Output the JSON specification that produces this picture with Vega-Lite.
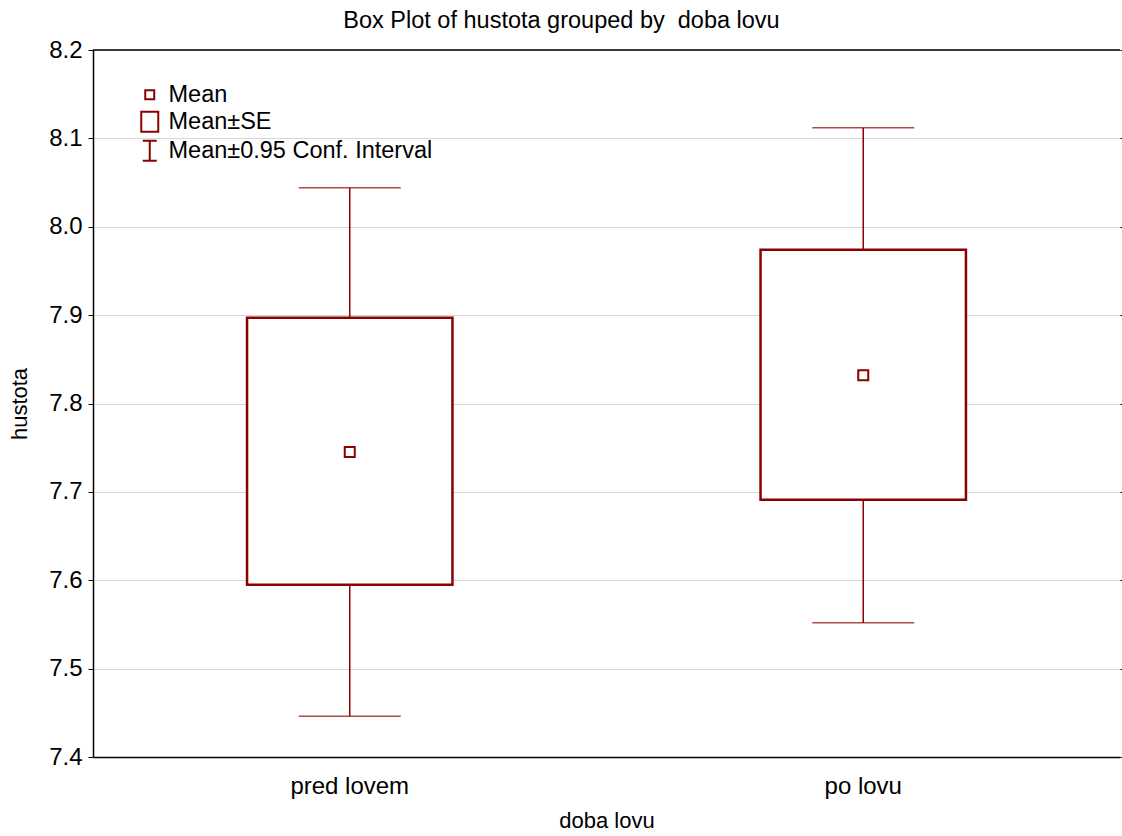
{
  "$schema": "https://vega.github.io/schema/vega-lite/v6.json",
  "width": 1027,
  "height": 707,
  "autosize": {"type": "none"},
  "padding": {"left": 93, "top": 50, "right": 2, "bottom": 79},
  "background": "white",
  "title": {
    "text": "Box Plot of hustota grouped by \u00a0doba lovu",
    "fontSize": 23.5,
    "fontWeight": "normal",
    "font": "Liberation Sans",
    "color": "black",
    "anchor": "middle",
    "dx": -45,
    "offset": 6
  },
  "datasets": {
    "stats": [
      {"g": "pred lovem", "mean": 7.745, "se_lo": 7.595, "se_hi": 7.897, "ci_lo": 7.446, "ci_hi": 8.044},
      {"g": "po lovu", "mean": 7.832, "se_lo": 7.691, "se_hi": 7.974, "ci_lo": 7.552, "ci_hi": 8.112}
    ],
    "legendItems": [
      {"item": "Mean"},
      {"item": "Mean±SE"},
      {"item": "Mean±0.95 Conf. Interval"}
    ],
    "border": [{"top": 8.2}]
  },
  "layer": [
    {
      "data": {"name": "stats"},
      "encoding": {
        "x": {
          "field": "g",
          "type": "nominal",
          "sort": ["pred lovem", "po lovu"],
          "scale": {"paddingInner": 0, "paddingOuter": 0},
          "title": "doba lovu"
        }
      },
      "layer": [
        {
          "mark": {"type": "rule", "color": "#8B0000", "strokeWidth": 1.5},
          "encoding": {
            "y": {
              "field": "ci_lo",
              "type": "quantitative",
              "scale": {"domain": [7.4, 8.2]},
              "title": "hustota",
              "axis": {"values": [7.4, 7.5, 7.6, 7.7, 7.8, 7.9, 8.0, 8.1, 8.2], "format": ".1f"}
            },
            "y2": {"field": "ci_hi"}
          }
        },
        {
          "mark": {"type": "tick", "color": "#8B0000", "size": 102, "thickness": 1.5},
          "encoding": {
            "y": {"field": "ci_hi", "type": "quantitative", "scale": {"domain": [7.4, 8.2]}, "title": "hustota",
              "axis": {"values": [7.4, 7.5, 7.6, 7.7, 7.8, 7.9, 8.0, 8.1, 8.2], "format": ".1f"}}
          }
        },
        {
          "mark": {"type": "tick", "color": "#8B0000", "size": 102, "thickness": 1.5},
          "encoding": {
            "y": {"field": "ci_lo", "type": "quantitative", "scale": {"domain": [7.4, 8.2]}, "title": "hustota",
              "axis": {"values": [7.4, 7.5, 7.6, 7.7, 7.8, 7.9, 8.0, 8.1, 8.2], "format": ".1f"}}
          }
        },
        {
          "mark": {"type": "bar", "fill": "white", "stroke": "#8B0000", "strokeWidth": 2.5, "width": {"band": 0.4}},
          "encoding": {
            "y": {"field": "se_lo", "type": "quantitative", "scale": {"domain": [7.4, 8.2]}, "title": "hustota",
              "axis": {"values": [7.4, 7.5, 7.6, 7.7, 7.8, 7.9, 8.0, 8.1, 8.2], "format": ".1f"}},
            "y2": {"field": "se_hi"}
          }
        },
        {
          "mark": {"type": "point", "shape": "square", "filled": false, "color": "#8B0000", "size": 100, "strokeWidth": 2, "opacity": 1},
          "encoding": {
            "y": {"field": "mean", "type": "quantitative", "scale": {"domain": [7.4, 8.2]}, "title": "hustota",
              "axis": {"values": [7.4, 7.5, 7.6, 7.7, 7.8, 7.9, 8.0, 8.1, 8.2], "format": ".1f"}}
          }
        }
      ]
    },
    {
      "data": {"name": "legendItems"},
      "mark": {"type": "point", "filled": false, "color": "#8B0000", "clip": true, "opacity": 1},
      "encoding": {
        "y": {"datum": 9, "type": "quantitative", "scale": {"domain": [7.4, 8.2]}, "axis": null},
        "shape": {
          "field": "item",
          "type": "nominal",
          "scale": {
            "domain": ["Mean", "Mean±SE", "Mean±0.95 Conf. Interval"],
            "range": [
              "M-0.45,-0.45H0.45V0.45H-0.45Z",
              "M-0.85,-1H0.85V1H-0.85Z",
              "M-0.7,-1H0.7M0,-1V1M-0.7,1H0.7"
            ]
          },
          "legend": {
            "title": null,
            "orient": "none",
            "legendX": 45,
            "legendY": 33,
            "symbolSize": 400,
            "symbolStrokeWidth": 2,
            "symbolStrokeColor": "#8B0000",
            "symbolFillColor": "transparent",
            "labelFont": "Liberation Sans",
            "labelFontSize": 23.5,
            "labelColor": "black",
            "labelOffset": 7,
            "rowPadding": 0,
            "labelLimit": 500
          }
        }
      }
    },
    {
      "data": {"name": "border"},
      "mark": {"type": "rule", "color": "black", "strokeWidth": 1.5},
      "encoding": {
        "y": {
          "field": "top",
          "type": "quantitative",
          "scale": {"domain": [7.4, 8.2]},
          "axis": {
            "orient": "right",
            "labels": false,
            "domain": false,
            "grid": false,
            "ticks": true,
            "tickSize": 3,
            "title": null,
            "values": [7.4, 7.5, 7.6, 7.7, 7.8, 7.9, 8.0, 8.1, 8.2]
          }
        }
      }
    }
  ],
  "resolve": {"axis": {"y": "independent"}},
  "config": {
    "view": {"stroke": null},
    "axis": {
      "labelFont": "Liberation Sans",
      "labelFontSize": 24,
      "labelColor": "black",
      "titleFont": "Liberation Sans",
      "titleFontSize": 22,
      "titleFontWeight": "normal",
      "titleColor": "black",
      "domainColor": "black",
      "domainWidth": 1.5,
      "tickColor": "black",
      "gridColor": "#d6d6d6",
      "gridWidth": 1
    },
    "axisY": {
      "tickSize": 5,
      "labelPadding": 6,
      "grid": true,
      "titlePadding": 17
    },
    "axisX": {
      "labelAngle": 0,
      "ticks": false,
      "labelPadding": 17,
      "titlePadding": 12,
      "grid": false
    }
  }
}
